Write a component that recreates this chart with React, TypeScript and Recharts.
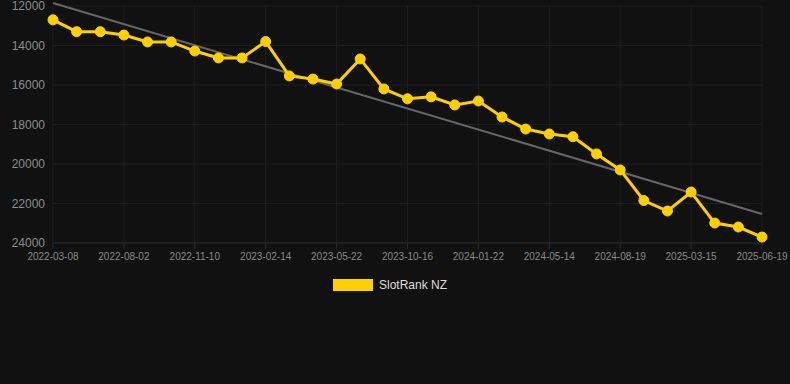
import React from 'react';
import { LineChart, Line, XAxis, YAxis, CartesianGrid, ReferenceLine } from 'recharts';

const dates = [
  '2022-03-08', '2022-04-21', '2022-06-14', '2022-08-02', '2022-09-05', '2022-10-08',
  '2022-11-10', '2022-12-12', '2023-01-13', '2023-02-14', '2023-03-20', '2023-04-19',
  '2023-05-22', '2023-07-10', '2023-08-28', '2023-10-16', '2023-11-20', '2023-12-20',
  '2024-01-22', '2024-02-26', '2024-04-02', '2024-05-14', '2024-06-18', '2024-07-18',
  '2024-08-19', '2024-10-30', '2025-01-06', '2025-03-15', '2025-04-16', '2025-05-19',
  '2025-06-19',
];

const ranks = [
  12700, 13300, 13300, 13470, 13820, 13820,
  14280, 14630, 14630, 13800, 15540, 15700,
  15950, 14680, 16200, 16700, 16600, 17010,
  16810, 17620, 18230, 18480, 18620, 19490,
  20300, 21850, 22380, 21420, 22990, 23190,
  23700,
];

const yTicks = [12000, 14000, 16000, 18000, 20000, 22000, 24000];
const trendStart = 11850;
const trendEnd = 22530;
const seriesName = 'SlotRank NZ';

const data = dates.map((d, i) => ({ date: d, rank: ranks[i] }));

const FONT = 'Arial, "Liberation Sans", Helvetica, sans-serif';
const GOLD = '#FFD000';

export default function App() {
  return (
    <div style={{ position: 'absolute', left: 0, top: 0, width: 790, height: 384, background: '#111111' }}>
      <LineChart
        width={790}
        height={384}
        data={data}
        margin={{ top: 6, right: 28, bottom: 111, left: 0 }}
      >
        <CartesianGrid stroke="#1e1e1e" strokeWidth={1} />
        <XAxis
          dataKey="date"
          interval={2}
          tick={{ fill: '#888888', fontSize: 10, fontFamily: FONT }}
          axisLine={{ stroke: '#2a2a2a' }}
          tickLine={{ stroke: '#2a2a2a' }}
          height={30}
          tickMargin={4}
        />
        <YAxis
          reversed
          domain={[12000, 24000]}
          ticks={yTicks}
          interval={0}
          width={53}
          tick={{ fill: '#8c8c8c', fontSize: 12, fontFamily: FONT }}
          axisLine={false}
          tickLine={false}
        />
        <ReferenceLine
          segment={[{ x: dates[0], y: trendStart }, { x: dates[dates.length - 1], y: trendEnd }]}
          stroke="#666666"
          strokeWidth={2}
          ifOverflow="visible"
        />
        <Line
          type="linear"
          dataKey="rank"
          name={seriesName}
          stroke={GOLD}
          strokeWidth={3}
          dot={{ r: 5, fill: GOLD, stroke: GOLD, strokeWidth: 1 }}
          activeDot={false}
          isAnimationActive={false}
        />
      </LineChart>
      <div
        style={{
          position: 'absolute',
          left: 333,
          top: 278,
          display: 'flex',
          alignItems: 'center',
          fontFamily: FONT,
        }}
      >
        <div style={{ width: 40, height: 12, background: GOLD, marginRight: 6 }} />
        <span style={{ color: '#dddddd', fontSize: 12 }}>{seriesName}</span>
      </div>
    </div>
  );
}
